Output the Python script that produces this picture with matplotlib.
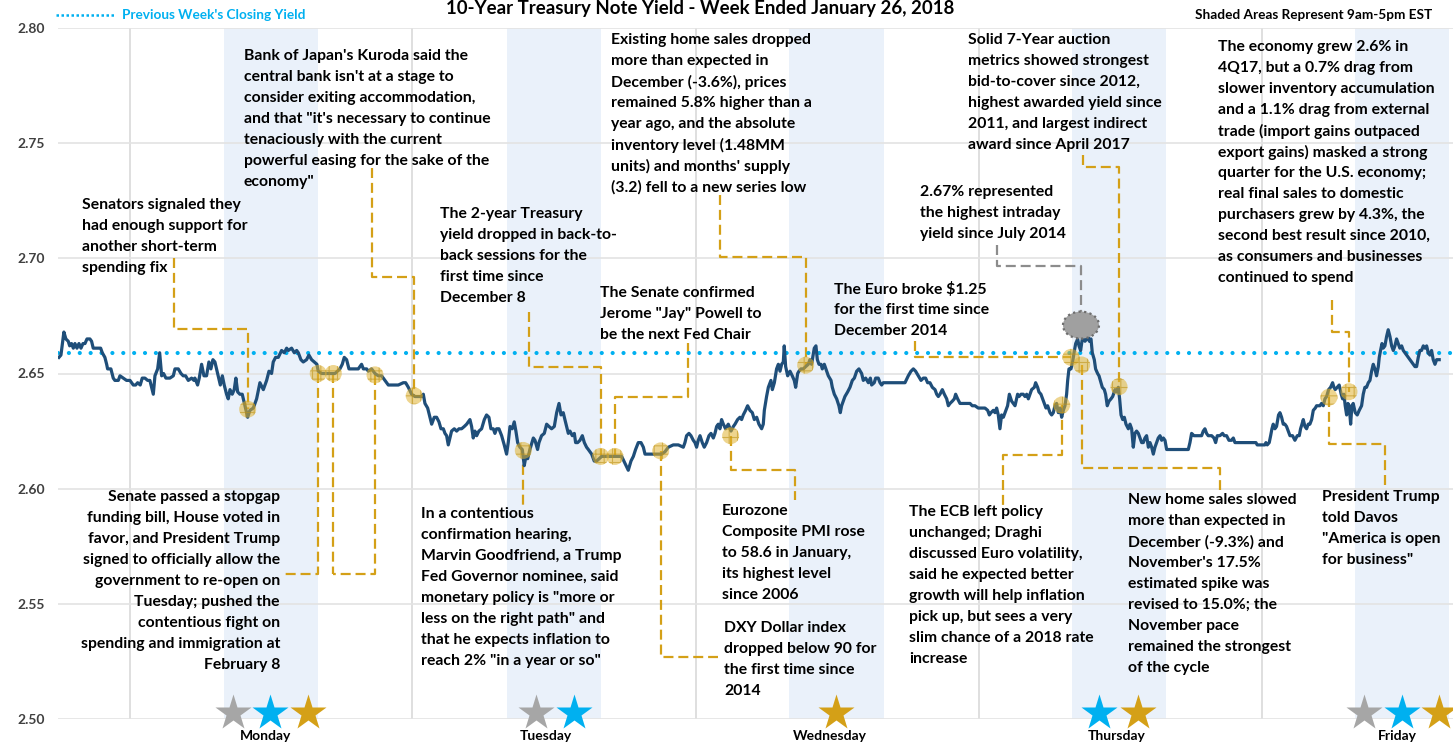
import numpy as np
import matplotlib
matplotlib.use('Agg')
from matplotlib import pyplot
from matplotlib.patches import Ellipse

# ---------------- data (hours from Monday 00:00, yield in %) ----------------
prev_close = 2.659

sun_mon = [(-5.01, 2.657), (-4.84, 2.658), (-4.59, 2.668), (-4.42, 2.665), (-4.22, 2.664), (-4.10, 2.662),
           (-3.94, 2.663), (-3.79, 2.661), (-3.65, 2.663), (-3.48, 2.661), (-3.31, 2.663), (-3.14, 2.661),
           (-2.97, 2.663), (-2.80, 2.663), (-2.63, 2.665), (-2.38, 2.665), (-2.24, 2.664), (-2.10, 2.661),
           (-1.67, 2.661), (-1.47, 2.661), (-1.33, 2.659), (-1.11, 2.657), (-0.96, 2.654), (-0.88, 2.652),
           (-0.60, 2.652), (-0.40, 2.648), (-0.26, 2.647), (0.03, 2.647), (0.17, 2.649), (0.45, 2.648),
           (0.73, 2.647), (1.02, 2.647), (1.30, 2.645), (1.50, 2.645), (1.67, 2.646), (1.89, 2.645),
           (2.06, 2.648), (2.29, 2.648), (2.52, 2.647), (2.71, 2.647), (3.00, 2.641), (3.14, 2.649),
           (3.37, 2.652), (3.54, 2.659), (3.71, 2.649), (3.87, 2.650), (4.07, 2.648), (4.41, 2.648),
           (4.70, 2.649), (4.84, 2.652), (5.12, 2.652), (5.35, 2.650), (5.54, 2.649), (5.74, 2.649),
           (5.97, 2.647), (6.25, 2.648), (6.45, 2.647), (6.53, 2.648), (6.76, 2.645), (6.90, 2.648),
           (7.10, 2.654), (7.30, 2.649), (7.52, 2.649), (7.72, 2.655), (7.89, 2.652), (8.06, 2.656),
           (8.23, 2.655), (8.46, 2.650), (8.69, 2.645), (8.86, 2.649), (9.02, 2.645), (9.22, 2.641),
           (9.36, 2.639), (9.51, 2.643), (9.70, 2.641), (9.87, 2.643), (10.01, 2.648), (10.16, 2.642),
           (10.35, 2.641), (10.55, 2.641), (10.78, 2.636), (11.01, 2.631), (11.20, 2.634), (11.49, 2.635),
           (11.77, 2.639), (12.05, 2.646), (12.34, 2.643), (12.62, 2.647), (12.82, 2.651), (13.04, 2.650),
           (13.18, 2.655), (13.38, 2.657), (13.61, 2.657), (13.89, 2.660), (14.12, 2.659), (14.32, 2.661),
           (14.46, 2.660), (14.74, 2.661), (14.97, 2.659), (15.17, 2.660), (15.31, 2.659), (15.53, 2.656),
           (15.73, 2.655), (16.01, 2.656), (16.21, 2.658), (16.44, 2.656), (16.66, 2.655), (16.89, 2.654),
           (17.00, 2.651), (17.29, 2.650), (17.85, 2.650), (18.42, 2.650)]

mon_tue = [(18.84, 2.652), (19.04, 2.654), (19.21, 2.657), (19.41, 2.656), (19.61, 2.652), (19.98, 2.652),
           (20.40, 2.652), (20.68, 2.654), (20.83, 2.652), (21.11, 2.652), (21.25, 2.651), (21.53, 2.652),
           (21.82, 2.650), (22.10, 2.649), (22.38, 2.649), (22.66, 2.647), (22.95, 2.645), (23.37, 2.645),
           (23.80, 2.645), (24.22, 2.646), (24.42, 2.646), (24.65, 2.644), (24.93, 2.641), (25.21, 2.640),
           (25.49, 2.640), (25.78, 2.640), (25.92, 2.641), (26.06, 2.637), (26.29, 2.635), (26.48, 2.631),
           (26.63, 2.628), (26.85, 2.631), (27.05, 2.631), (27.25, 2.629), (27.42, 2.626), (27.62, 2.626),
           (27.76, 2.624), (27.90, 2.623), (28.04, 2.619), (28.18, 2.622), (28.32, 2.625), (28.55, 2.626),
           (28.75, 2.625), (28.95, 2.626), (29.17, 2.626), (29.40, 2.627), (29.60, 2.628), (29.74, 2.629),
           (29.88, 2.630), (30.02, 2.627), (30.16, 2.622), (30.30, 2.625), (30.45, 2.623), (30.64, 2.625),
           (30.87, 2.626), (31.10, 2.630), (31.29, 2.632), (31.49, 2.631), (31.66, 2.626), (31.86, 2.626),
           (32.00, 2.624), (32.14, 2.626), (32.34, 2.626), (32.57, 2.623), (32.79, 2.619), (32.99, 2.615),
           (33.13, 2.620), (33.28, 2.627), (33.47, 2.626), (33.64, 2.629), (33.78, 2.625), (33.93, 2.620),
           (34.12, 2.618), (34.32, 2.617), (34.49, 2.610), (34.63, 2.614), (34.78, 2.613), (34.97, 2.617),
           (35.26, 2.622), (35.40, 2.621), (35.62, 2.617), (35.74, 2.620), (35.96, 2.623), (36.19, 2.624),
           (36.39, 2.628), (36.59, 2.627), (36.81, 2.626), (37.04, 2.627), (37.24, 2.633), (37.44, 2.637),
           (37.61, 2.632), (37.80, 2.633), (37.94, 2.630), (38.23, 2.624), (38.37, 2.625), (38.57, 2.623),
           (38.74, 2.624), (38.85, 2.620), (39.02, 2.620), (39.22, 2.621), (39.42, 2.623), (39.59, 2.620),
           (39.78, 2.618), (39.93, 2.617), (40.21, 2.615), (40.43, 2.612), (40.63, 2.612), (41.06, 2.614),
           (41.62, 2.614), (42.19, 2.614), (42.61, 2.614)]

tue_wed = [(42.76, 2.614), (43.04, 2.611), (43.32, 2.608), (43.55, 2.612), (43.75, 2.614), (43.94, 2.617),
           (44.17, 2.620), (44.40, 2.620), (44.60, 2.618), (44.74, 2.615), (45.02, 2.615), (45.44, 2.615),
           (45.87, 2.615), (46.15, 2.615), (46.43, 2.616), (46.72, 2.618), (47.14, 2.619), (47.57, 2.619),
           (47.99, 2.618), (48.13, 2.620), (48.27, 2.623), (48.47, 2.624), (48.64, 2.623), (48.84, 2.621),
           (48.98, 2.620), (49.12, 2.618), (49.26, 2.621), (49.41, 2.623), (49.60, 2.620), (49.77, 2.618),
           (49.97, 2.620), (50.17, 2.623), (50.34, 2.624), (50.54, 2.622), (50.68, 2.624), (50.82, 2.627),
           (50.96, 2.628), (51.10, 2.626), (51.24, 2.630), (51.39, 2.628), (51.58, 2.626), (51.81, 2.628),
           (52.04, 2.625), (52.24, 2.627), (52.38, 2.628), (52.60, 2.630), (52.80, 2.631), (52.94, 2.630),
           (53.08, 2.632), (53.28, 2.634), (53.45, 2.636), (53.65, 2.634), (53.85, 2.633), (54.02, 2.630),
           (54.22, 2.631), (54.41, 2.628), (54.64, 2.626), (54.78, 2.628), (54.87, 2.634), (55.06, 2.640),
           (55.21, 2.644), (55.43, 2.647), (55.55, 2.643), (55.72, 2.646), (55.91, 2.652), (56.06, 2.654),
           (56.20, 2.651), (56.34, 2.654), (56.48, 2.655), (56.56, 2.662), (56.68, 2.653), (56.85, 2.649),
           (57.05, 2.651), (57.24, 2.649), (57.41, 2.647), (57.53, 2.644), (57.70, 2.650), (57.81, 2.651),
           (57.98, 2.652), (58.18, 2.652), (58.38, 2.653), (58.60, 2.654), (58.74, 2.656), (58.88, 2.654),
           (59.11, 2.661), (59.25, 2.662), (59.37, 2.656), (59.51, 2.654), (59.68, 2.654), (59.79, 2.652),
           (59.96, 2.654), (60.16, 2.651), (60.30, 2.649), (60.53, 2.647), (60.64, 2.644), (60.81, 2.641),
           (61.01, 2.639), (61.20, 2.636), (61.32, 2.633), (61.43, 2.636), (61.57, 2.638), (61.71, 2.640),
           (61.94, 2.642), (62.14, 2.644), (62.34, 2.647), (62.51, 2.648), (62.71, 2.651), (62.90, 2.652),
           (63.13, 2.650), (63.27, 2.647), (63.47, 2.648), (63.70, 2.646), (63.87, 2.648), (63.98, 2.645),
           (64.20, 2.646), (64.32, 2.648), (64.54, 2.648), (64.69, 2.646), (64.83, 2.645), (64.97, 2.646),
           (65.25, 2.646), (65.82, 2.646), (66.38, 2.646)]

wed_thu = [(66.81, 2.646), (67.09, 2.649), (67.32, 2.651), (67.52, 2.652), (67.71, 2.651), (67.94, 2.649),
           (68.17, 2.647), (68.37, 2.648), (68.56, 2.648), (68.73, 2.646), (68.93, 2.646), (69.13, 2.644),
           (69.36, 2.643), (69.50, 2.641), (69.64, 2.640), (69.78, 2.641), (69.98, 2.643), (70.15, 2.641),
           (70.35, 2.639), (70.49, 2.636), (70.63, 2.637), (70.83, 2.638), (71.00, 2.639), (71.11, 2.641),
           (71.28, 2.639), (71.48, 2.637), (71.76, 2.637), (72.04, 2.637), (72.33, 2.637), (72.52, 2.636),
           (72.75, 2.636), (73.03, 2.635), (73.37, 2.635), (73.60, 2.635), (73.83, 2.634), (73.97, 2.632),
           (74.11, 2.633), (74.31, 2.634), (74.45, 2.633), (74.59, 2.635), (74.73, 2.632), (74.87, 2.626),
           (75.01, 2.632), (75.16, 2.631), (75.30, 2.633), (75.52, 2.636), (75.67, 2.641), (75.86, 2.638),
           (76.01, 2.637), (76.15, 2.636), (76.37, 2.641), (76.49, 2.640), (76.66, 2.641), (76.85, 2.641),
           (77.00, 2.640), (77.14, 2.641), (77.28, 2.639), (77.42, 2.641), (77.56, 2.643), (77.79, 2.644),
           (77.90, 2.646), (78.07, 2.644), (78.18, 2.642), (78.35, 2.641), (78.49, 2.639), (78.64, 2.637),
           (78.78, 2.635), (78.92, 2.636), (79.12, 2.633), (79.26, 2.632), (79.40, 2.633), (79.54, 2.636),
           (79.68, 2.637), (79.83, 2.633), (79.97, 2.635), (80.11, 2.631), (80.25, 2.634), (80.39, 2.636),
           (80.53, 2.641), (80.62, 2.647), (80.73, 2.652), (80.90, 2.652), (81.04, 2.655), (81.16, 2.659),
           (81.30, 2.663), (81.47, 2.665), (81.58, 2.662), (81.72, 2.660), (81.86, 2.665), (81.98, 2.670),
           (82.09, 2.664), (82.23, 2.665), (82.32, 2.667), (82.46, 2.664), (82.60, 2.665), (82.71, 2.659),
           (82.88, 2.656), (82.99, 2.652), (83.16, 2.650), (83.28, 2.649), (83.45, 2.646), (83.56, 2.644),
           (83.73, 2.643), (83.84, 2.641), (83.98, 2.636), (84.13, 2.638), (84.30, 2.639), (84.44, 2.640),
           (84.64, 2.643), (84.78, 2.642), (84.92, 2.644), (85.03, 2.639), (85.15, 2.632), (85.29, 2.630),
           (85.43, 2.631), (85.57, 2.628), (85.77, 2.626), (85.91, 2.628), (86.05, 2.626), (86.19, 2.618),
           (86.33, 2.624), (86.47, 2.625), (86.62, 2.624), (86.76, 2.622), (86.90, 2.620), (87.04, 2.620),
           (87.18, 2.622), (87.32, 2.623), (87.47, 2.618), (87.61, 2.620), (87.75, 2.618), (87.89, 2.615),
           (88.03, 2.618), (88.17, 2.620), (88.31, 2.622), (88.46, 2.623), (88.60, 2.621), (88.74, 2.622),
           (88.88, 2.621), (89.02, 2.617), (89.45, 2.617), (90.15, 2.617)]

thu_fri = [(90.86, 2.617), (91.00, 2.620), (91.14, 2.624), (91.34, 2.623), (91.56, 2.623), (91.99, 2.623),
           (92.13, 2.625), (92.27, 2.626), (92.41, 2.624), (92.55, 2.623), (92.84, 2.623), (93.04, 2.622),
           (93.18, 2.620), (93.32, 2.623), (93.54, 2.623), (93.77, 2.624), (93.91, 2.623), (94.11, 2.623),
           (94.31, 2.621), (94.53, 2.621), (94.68, 2.622), (94.82, 2.620), (95.24, 2.620), (95.81, 2.620),
           (96.37, 2.620), (96.60, 2.620), (96.71, 2.619), (97.08, 2.619), (97.36, 2.619), (97.45, 2.620),
           (97.56, 2.619), (97.73, 2.620), (97.85, 2.623), (97.96, 2.626), (98.07, 2.628), (98.21, 2.626),
           (98.35, 2.627), (98.52, 2.632), (98.64, 2.633), (98.78, 2.631), (98.92, 2.628), (99.06, 2.628),
           (99.20, 2.627), (99.35, 2.625), (99.49, 2.623), (99.71, 2.623), (99.91, 2.621), (100.11, 2.623),
           (100.28, 2.623), (100.39, 2.626), (100.51, 2.628), (100.62, 2.630), (100.76, 2.627), (100.90, 2.626),
           (101.04, 2.628), (101.18, 2.628), (101.33, 2.630), (101.47, 2.634), (101.64, 2.635), (101.75, 2.636),
           (101.89, 2.636), (102.03, 2.636), (102.17, 2.637), (102.32, 2.636), (102.46, 2.639), (102.60, 2.640),
           (102.77, 2.643), (102.94, 2.644), (103.11, 2.646), (103.22, 2.644), (103.33, 2.643), (103.50, 2.644),
           (103.67, 2.645), (103.84, 2.641), (103.96, 2.639), (104.07, 2.641), (104.18, 2.636), (104.30, 2.632),
           (104.41, 2.637), (104.52, 2.636), (104.64, 2.628), (104.75, 2.636), (104.86, 2.637), (105.03, 2.633),
           (105.20, 2.632), (105.37, 2.634), (105.57, 2.636), (105.71, 2.641), (105.85, 2.644), (105.99, 2.644),
           (106.14, 2.646), (106.28, 2.647), (106.42, 2.651), (106.56, 2.654), (106.70, 2.652), (106.84, 2.649),
           (106.99, 2.653), (107.07, 2.657), (107.18, 2.660), (107.30, 2.663), (107.41, 2.661), (107.55, 2.662),
           (107.69, 2.666), (107.83, 2.669), (107.98, 2.666), (108.12, 2.662), (108.26, 2.660), (108.40, 2.662),
           (108.54, 2.665), (108.68, 2.663), (108.82, 2.661), (108.97, 2.662), (109.11, 2.660), (109.25, 2.659),
           (109.39, 2.658), (109.53, 2.657), (109.67, 2.656), (109.81, 2.655), (109.96, 2.654), (110.10, 2.653),
           (110.24, 2.653), (110.38, 2.657), (110.52, 2.660), (110.66, 2.660), (110.81, 2.662), (110.95, 2.661),
           (111.09, 2.662), (111.23, 2.659), (111.37, 2.658), (111.51, 2.660), (111.65, 2.656), (111.80, 2.654),
           (111.94, 2.656), (112.16, 2.656)]

day_names = ['Monday', 'Tuesday', 'Wednesday', 'Thursday', 'Friday']
day_label_hours = [12.5, 36.3, 60.4, 84.8, 108.6]
day_breaks = [1.0, 25.0, 49.1, 73.1, 97.1]
sessions = [(9, 17), (33, 41), (57, 65), (81, 89), (105, 113)]

# news events on the yield line
event_hours = [11.01, 17.0, 18.28, 21.82, 25.15, 34.41, 40.97, 42.19, 46.07, 52.01, 58.38,
               80.11, 80.90, 81.81, 84.98, 102.8, 104.5]
event_yields = [2.6345, 2.650, 2.650, 2.6494, 2.6403, 2.6166, 2.614, 2.614, 2.6164, 2.623, 2.6536,
                2.6363, 2.657, 2.6537, 2.6443, 2.6397, 2.6421]
intraday_high = (81.75, 2.671)

# stars along the bottom of each day
star_hours = [9.76, 12.9, 16.13, 35.48, 38.71, 60.95, 83.28, 86.59, 105.77, 109.0, 112.14]
star_kinds = ['g', 'b', 'y', 'g', 'b', 'y', 'b', 'y', 'g', 'b', 'y']

# leader lines (hours, yield)
leaders = [
    [(4.75, 2.7001), (4.75, 2.6693), (11.01, 2.6693), (11.01, 2.6345)],
    [(21.56, 2.7392), (21.56, 2.6919), (25.15, 2.6919), (25.15, 2.6403)],
    [(17.0, 2.650), (17.0, 2.5630), (14.18, 2.5630)],
    [(18.28, 2.650), (18.28, 2.5630)],
    [(21.82, 2.6494), (21.82, 2.5630), (18.28, 2.5630)],
    [(34.89, 2.6767), (34.89, 2.6528), (40.97, 2.6528), (40.97, 2.614)],
    [(34.41, 2.6166), (34.41, 2.5929)],
    [(48.39, 2.6632), (48.39, 2.6398), (42.19, 2.6398), (42.19, 2.614)],
    [(46.07, 2.6164), (46.07, 2.5269), (50.93, 2.5269)],
    [(52.01, 2.623), (52.01, 2.6081), (57.47, 2.6081), (57.47, 2.5951)],
    [(51.10, 2.7275), (51.10, 2.7006), (58.38, 2.7006), (58.38, 2.6536)],
    [(67.66, 2.6641), (67.66, 2.6572), (80.90, 2.6572)],
    [(80.11, 2.6363), (80.11, 2.6146), (75.13, 2.6146), (75.13, 2.5929)],
    [(81.81, 2.6537), (81.81, 2.6090), (93.55, 2.6090), (93.55, 2.5994)],
    [(81.92, 2.7449), (81.92, 2.7397), (84.98, 2.7397), (84.98, 2.6443)],
    [(103.06, 2.6819), (103.06, 2.6680), (104.5, 2.6680), (104.5, 2.6421)],
    [(102.8, 2.6397), (102.8, 2.6194), (107.56, 2.6194), (107.56, 2.6016)],
]
gray_leader = [(74.62, 2.7058), (74.62, 2.6967), (81.75, 2.6967), (81.75, 2.6767)]

# annotation texts: (anchor x px, first-line centre y px, text, align)
notes = [
    (82, 205, "Senators signaled they\nhad enough support for\nanother short-term\nspending fix", 'left'),
    (244, 56, "Bank of Japan's Kuroda said the\ncentral bank isn't at a stage to\nconsider exiting accommodation,\n"
              "and that \"it's necessary to continue\ntenaciously with the current\npowerful easing for the sake of the\n"
              "economy\"", 'left'),
    (611, 40, "Existing home sales dropped\nmore than expected in\nDecember (-3.6%), prices\nremained 5.8% higher than a\n"
              "year ago, and the absolute\ninventory level (1.48MM\nunits) and months' supply\n(3.2) fell to a new series low",
     'left'),
    (968, 40, "Solid 7-Year auction\nmetrics showed strongest\nbid-to-cover since 2012,\nhighest awarded yield since\n"
              "2011, and largest indirect\naward since April 2017", 'left'),
    (1218, 47, "The economy grew 2.6% in\n4Q17, but a 0.7% drag from\nslower inventory accumulation\n"
               "and a 1.1% drag from external\ntrade (import gains outpaced\nexport gains) masked a strong\n"
               "quarter for the U.S. economy;\nreal final sales to domestic\npurchasers grew by 4.3%, the\n"
               "second best result since 2010,\nas consumers and businesses\ncontinued to spend", 'left'),
    (440, 214, "The 2-year Treasury\nyield dropped in back-to-\nback sessions for the\nfirst time since\nDecember 8", 'left'),
    (600, 293, "The Senate confirmed\nJerome \"Jay\" Powell to\nbe the next Fed Chair", 'left'),
    (920, 192, "2.67% represented\nthe highest intraday\nyield since July 2014", 'left'),
    (834, 289, "The Euro broke $1.25\nfor the first time since\nDecember 2014", 'left'),
    (280, 497, "Senate passed a stopgap\nfunding bill, House voted in\nfavor, and President Trump\n"
               "signed to officially allow the\ngovernment to re-open on\nTuesday; pushed the\ncontentious fight on\n"
               "spending and immigration at\nFebruary 8", 'right'),
    (421, 514, "In a contentious\nconfirmation hearing,\nMarvin Goodfriend, a Trump\nFed Governor nominee, said\n"
               "monetary policy is \"more or\nless on the right path\" and\nthat he expects inflation to\n"
               "reach 2% \"in a year or so\"", 'left'),
    (722, 511, "Eurozone\nComposite PMI rose\nto 58.6 in January,\nits highest level\nsince 2006", 'left'),
    (724, 628, "DXY Dollar index\ndropped below 90 for\nthe first time since\n2014", 'left'),
    (909, 512, "The ECB left policy\nunchanged; Draghi\ndiscussed Euro volatility,\nsaid he expected better\n"
               "growth will help inflation\npick up, but sees a very\nslim chance of a 2018 rate\nincrease", 'left'),
    (1128, 500, "New home sales slowed\nmore than expected in\nDecember (-9.3%) and\nNovember's 17.5%\n"
                "estimated spike was\nrevised to 15.0%; the\nNovember pace\nremained the strongest\nof the cycle", 'left'),
    (1322, 497, "President Trump\ntold Davos\n\"America is open\nfor business\"", 'left'),
]
LINE_PITCH = 21  # px between text lines

# ---------------- drawing ----------------
W, H = 1453, 743
FONT = 'Lato'
navy = '#1F4E79'
sky = '#00B0F0'
gold = '#D4A017'
grey = '#A6A6A6'
star_colors = {'g': grey, 'b': sky, 'y': gold}

trace = np.array(sun_mon + mon_tue + tue_wed + wed_thu + thu_fri)

fig = pyplot.figure(figsize=(W / 100, H / 100), dpi=100)
ax = fig.add_axes([58 / W, 1 - 719 / H, 1 - 58 / W, 691 / H])
ax.set_xlim(-5.09, 113.33)
ax.set_ylim(2.50, 2.80)

for a, b in sessions:
    ax.axvspan(a, b, color='#EAF1FA', lw=0, zorder=0)
for x in day_breaks:
    ax.axvline(x, color='#D9D9D9', lw=1.2, zorder=1)
for y in np.arange(2.50, 2.801, 0.05):
    ax.axhline(y, color='#E3E3E3', lw=1.2, zorder=1)

ax.axhline(prev_close, color=sky, lw=3, ls=(0, (0.01, 2.6)), dash_capstyle='round', zorder=3)
ax.plot(trace[:, 0], trace[:, 1], color=navy, lw=2.3, zorder=4)

dash = (0, (4.5, 2.2))
for path in leaders:
    p = np.array(path)
    ax.plot(p[:, 0], p[:, 1], color=gold, lw=1.6, ls=dash, zorder=2)
p = np.array(gray_leader)
ax.plot(p[:, 0], p[:, 1], color='#8C8C8C', lw=1.6, ls=dash, zorder=2)

pyplot.rcParams['hatch.linewidth'] = 0.8
ax.scatter(event_hours, event_yields, s=150, facecolor=(0.88, 0.70, 0.20, 0.55),
           edgecolor=(0.75, 0.58, 0.10, 0.6), lw=0, hatch='++', zorder=5)
ax.add_patch(Ellipse(intraday_high, width=36 / 11.78, height=27 / 2303.3, facecolor='#A0A0A0',
                     edgecolor='#6E6E6E', ls=(0, (1, 1.5)), lw=1.6, zorder=5))

for h, k in zip(star_hours, star_kinds):
    ax.plot(h, 2.5028, marker='*', ms=27, color=star_colors[k], mec='none', clip_on=False, zorder=6)

for s in ax.spines.values():
    s.set_visible(False)
ax.set_yticks([2.50, 2.55, 2.60, 2.65, 2.70, 2.75, 2.80])
ax.set_yticklabels(['%.2f' % v for v in ax.get_yticks()], fontsize=10, fontweight='bold', color='#404040',
                   family=FONT)
ax.set_xticks(day_label_hours)
ax.set_xticklabels(day_names, fontsize=10, fontweight='bold', family=FONT)
ax.tick_params(axis='both', length=0)
ax.tick_params(axis='y', pad=9.4)
ax.tick_params(axis='x', pad=8)

for x, y, s, ha in notes:
    for i, line in enumerate(s.split('\n')):
        fig.text(x / W, 1 - (y + i * LINE_PITCH) / H, line, ha=ha, va='center', fontsize=11.3,
                 fontweight='bold', family=FONT, color='black')

fig.text(700 / W, 1.0, '10-Year Treasury Note Yield - Week Ended January 26, 2018', ha='center',
         va='top', fontsize=13.4, fontweight='bold', family=FONT)
fig.text(1432 / W, 1 - 15 / H, 'Shaded Areas Represent 9am-5pm EST', ha='right', va='center', fontsize=9.8,
         fontweight='bold', family=FONT)
fig.add_artist(matplotlib.lines.Line2D([56 / W, 115 / W], [1 - 15 / H, 1 - 15 / H], color=sky, lw=1.8,
                                       ls=(0, (1, 1))))
fig.text(122 / W, 1 - 15 / H, "Previous Week's Closing Yield", ha='left', va='center', fontsize=9.8,
         fontweight='bold', color=sky, family=FONT)

fig.savefig('out.png', dpi=100)
